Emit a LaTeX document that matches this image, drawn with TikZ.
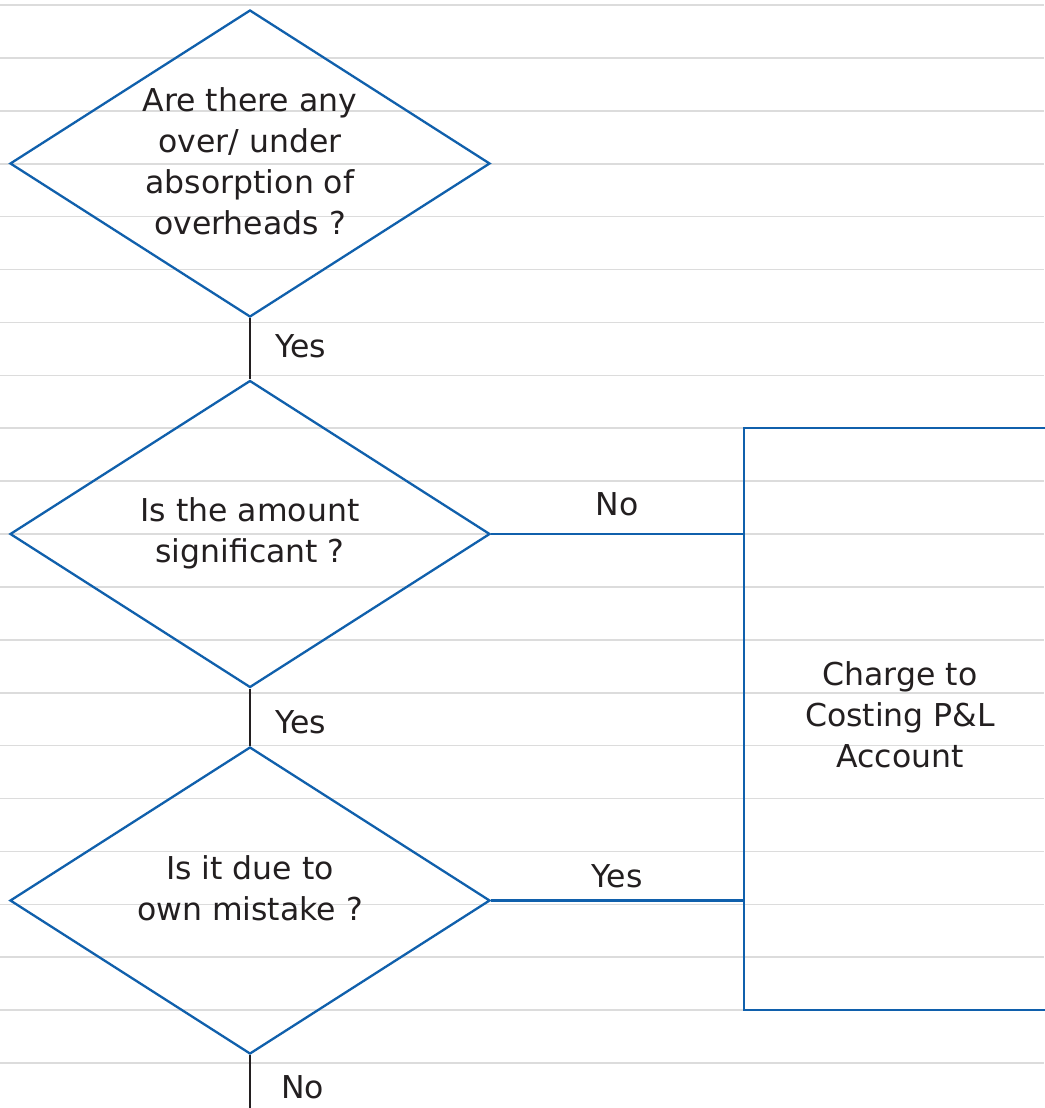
\documentclass[tikz,border=0pt]{standalone}
\usepackage{fontspec}
\setmainfont{DejaVu Sans}
\usetikzlibrary{shapes.geometric}
\definecolor{flowblue}{HTML}{1060AC}
\definecolor{rulegray}{HTML}{DCDCDC}
\definecolor{ink}{HTML}{231F20}
\begin{document}
\begin{tikzpicture}[x=1pt,y=-1pt,
  decision/.style={diamond, draw=flowblue, line width=2.3pt, minimum width=480pt, minimum height=307pt, inner sep=0pt},
  qtext/.style={align=center, font=\fontsize{31.5}{41}\selectfont, text=ink},
  lbl/.style={font=\fontsize{31.5}{41}\selectfont, text=ink, inner sep=0pt},
  flow/.style={draw=ink, line width=2.6pt},
  link/.style={draw=flowblue, line width=2.3pt},
  action/.style={rectangle, draw=flowblue, line width=2.3pt, minimum width=312pt, minimum height=582pt, inner sep=0pt}
]
\useasboundingbox (0,0) rectangle (1044,1108);
\fill[white] (0,0) rectangle (1044,1108);
% ruled paper
\foreach \k in {0,...,20}
  \draw[rulegray, line width=1.6pt] (0,5+52.9*\k) -- (1044,5+52.9*\k);

% decisions
\node[decision] (q1) at (250,163.5) {};
\node[qtext] (q1t) at (250,161) {Are there any\\over/ under\\absorption of\\overheads ?};
\node[decision] (q2) at (250,534) {};
\node[qtext] (q2t) at (250,533) {Is the amount\\significant ?};
\node[decision] (q3) at (250,900.5) {};
\node[qtext] (q3t) at (250,888) {Is it due to\\own mistake ?};

% outcome box
\node[action] (pl) at (900,719) {};
\node[qtext] (plt) at (900,715) {Charge to\\Costing P\&L\\Account};
\coordinate (out) at (250,1115);

% connectors
\draw[flow] (q1.south) -- (q2.north);
\draw[flow] (q2.south) -- (q3.north);
\draw[flow] (q3.south) -- (out);
\draw[link] (q2.east) -- (pl.west |- q2.east)
  node[lbl, midway, anchor=base, yshift=19pt] (lno) {No};
\draw[link] (q3.east) -- (pl.west |- q3.east)
  node[lbl, midway, anchor=base, yshift=13pt] (lyes) {Yes};

% branch labels
\node[lbl, anchor=base west] (y1) at (275,357) {Yes};
\node[lbl, anchor=base west] (y2) at (275,733) {Yes};
\node[lbl, anchor=base west] (n3) at (281,1098) {No};
\end{tikzpicture}
\end{document}
